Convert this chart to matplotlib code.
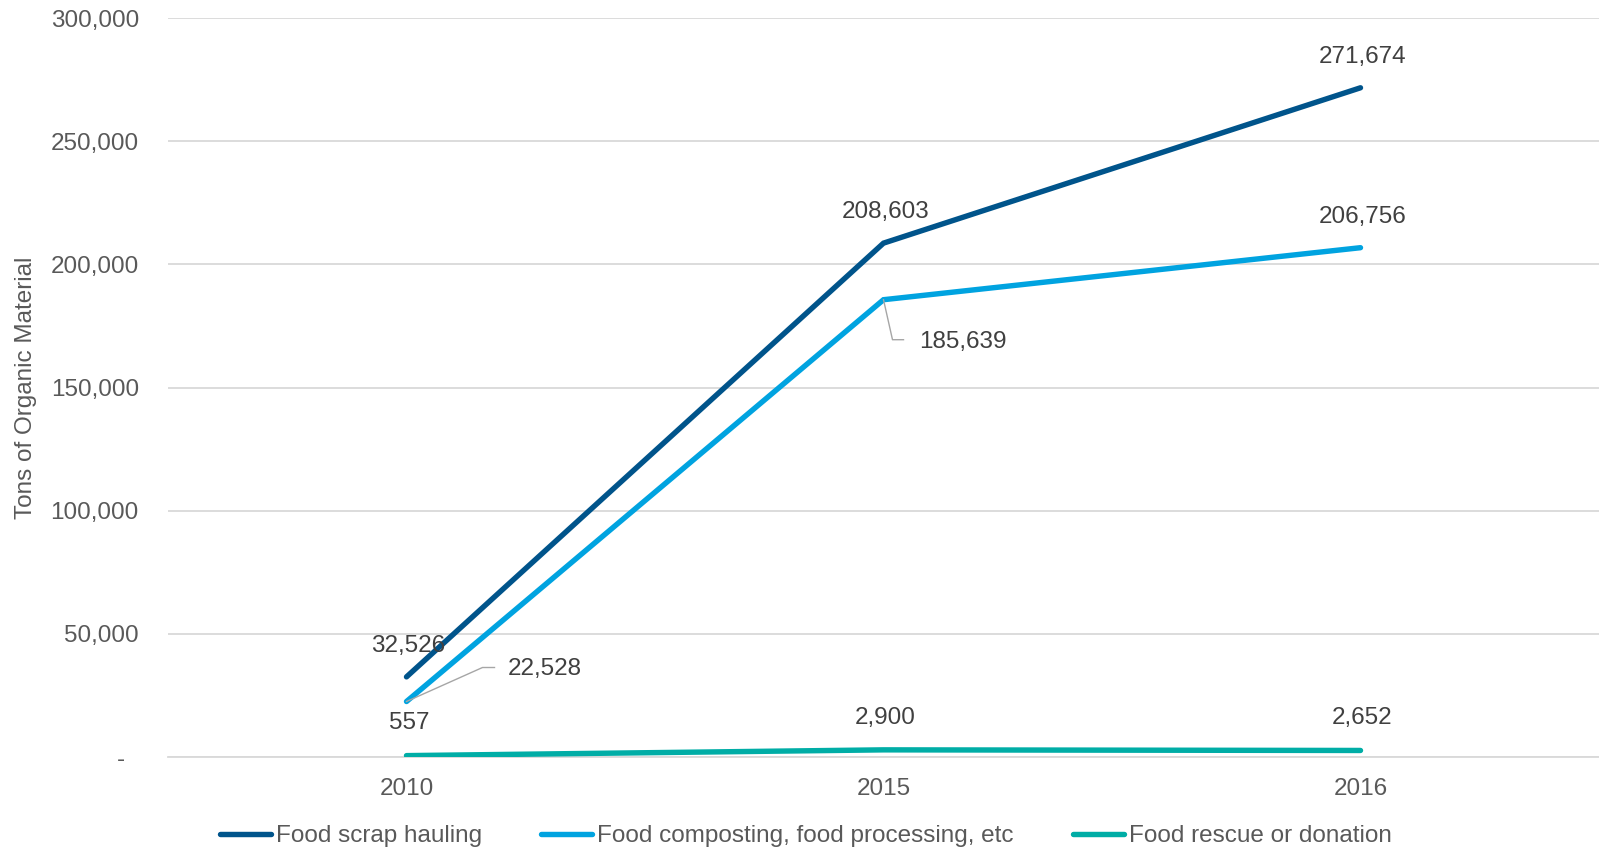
import numpy as np
import matplotlib
matplotlib.use("Agg")
import matplotlib.pyplot as plt
from matplotlib.ticker import FuncFormatter, MultipleLocator
from matplotlib.transforms import IdentityTransform

plt.rcParams["font.family"] = ["Liberation Sans", "DejaVu Sans"]

# ---------------------------------------------------------------------------
# Données
# ---------------------------------------------------------------------------
years = ["2010", "2015", "2016"]
hauling = [32526, 208603, 271674]
composting = [22528, 185639, 206756]
rescue = [557, 2900, 2652]

series_names = [
    "Food scrap hauling",
    "Food composting, food processing, etc",
    "Food rescue or donation",
]
series_colors = ["#00548B", "#00A3E0", "#00ADA6"]

# décalages des étiquettes (pixels, y vers le haut)
label_offsets = [
    [(2, 31), (2, 31), (2, 31)],
    [(138, 33), (79, -42), (2, 31)],
    [(3, 33), (2, 32), (2, 32)],
]
# lignes de rappel (pixels depuis le point)
leaders = {
    (1, 0): [(0, 0), (76, 34), (88, 34)],
    (1, 1): [(0, 0), (9, -40), (20, -40)],
}

TXT = "#404040"
AXTXT = "#595959"
GRID = "#D9D9D9"
FS = 17.5

fig = plt.figure(figsize=(15.99, 8.51), dpi=100)
ax = fig.add_axes([168 / 1599, 1 - 757 / 851, 1 - 168 / 1599, (757 - 18) / 851])

x = np.arange(len(years))
all_series = [hauling, composting, rescue]
for vals, name, col in zip(all_series, series_names, series_colors):
    ax.plot(x, vals, color=col, lw=3.9, label=name,
            solid_capstyle="round", solid_joinstyle="miter", zorder=3)

ax.set_xlim(-0.5, 2.5)
ax.set_ylim(0, 300000)
ax.set_xticks(x)
ax.set_xticklabels(years)
ax.yaxis.set_major_locator(MultipleLocator(50000))
ax.yaxis.set_major_formatter(
    FuncFormatter(lambda v, p: "-  " if v == 0 else f"{int(v):,}"))
ax.grid(axis="y", color=GRID, lw=1.3)
ax.set_axisbelow(True)
for s in ["top", "right", "left"]:
    ax.spines[s].set_visible(False)
ax.spines["bottom"].set_color(GRID)
ax.spines["bottom"].set_linewidth(1.3)
ax.tick_params(axis="both", length=0, labelsize=FS, labelcolor=AXTXT)
ax.tick_params(axis="y", pad=21)
ax.tick_params(axis="x", pad=15)
ax.set_ylabel("Tons of Organic Material", fontsize=FS, color=AXTXT,
              va="center")
ax.yaxis.set_label_coords((26 - 168) / (1599 - 168), 0.5)

# étiquettes de valeurs
for i, vals in enumerate(all_series):
    for j, v in enumerate(vals):
        dx, dy = label_offsets[i][j]
        ax.annotate(f"{v:,}", xy=(x[j], v), xytext=(dx, dy),
                    textcoords="offset pixels", ha="center", va="center",
                    fontsize=FS, color=TXT, zorder=5)

# lignes de rappel
fig.canvas.draw()
for (i, j), pts in leaders.items():
    base = ax.transData.transform((x[j], all_series[i][j]))
    pts = np.array(pts, dtype=float) + base
    ax.plot(pts[:, 0], pts[:, 1], color="#A6A6A6", lw=1.0,
            transform=IdentityTransform(), zorder=4, clip_on=False)

leg = fig.legend(loc="center", bbox_to_anchor=(0.504, 1 - 836 / 851), ncol=3,
                 frameon=False, fontsize=FS, handlelength=2.1,
                 handletextpad=0.2, columnspacing=2.45)
for t in leg.get_texts():
    t.set_color(AXTXT)

fig.savefig("out.png", dpi=100)
